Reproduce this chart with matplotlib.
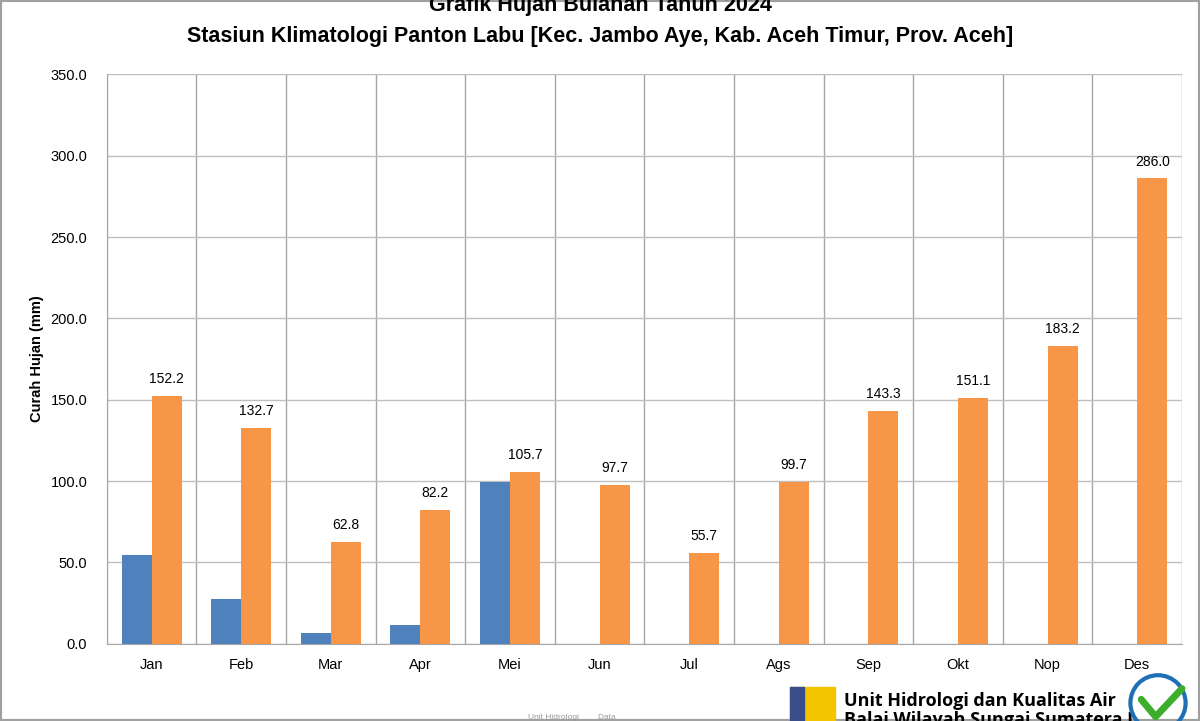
import numpy as np
import matplotlib.pyplot as plt
from matplotlib.patches import Rectangle, Ellipse

months = ['Jan', 'Feb', 'Mar', 'Apr', 'Mei', 'Jun', 'Jul', 'Ags', 'Sep', 'Okt', 'Nop', 'Des']
# blue series (no labels shown)
hujan_2024 = [54.7, 27.8, 6.8, 11.5, 99.2, 0, 0, 0, 0, 0, 0, 0]
# orange series (labelled)
hujan_rerata = [152.2, 132.7, 62.8, 82.2, 105.7, 97.7, 55.7, 99.7, 143.3, 151.1, 183.2, 286.0]

plt.rcParams['font.family'] = ['Liberation Sans', 'DejaVu Sans']

fig = plt.figure(figsize=(12, 7.21), dpi=100)
ax = fig.add_axes([0.089, 0.107, 0.896, 0.79])

x = np.arange(len(months))
w = 0.335
blue = '#4F81BD'
orange = '#F79646'
ax.bar(x - w / 2, hujan_2024, w, color=blue, zorder=3)
bars = ax.bar(x + w / 2, hujan_rerata, w, color=orange, zorder=3)
for b, v in zip(bars, hujan_rerata):
    ax.text(b.get_x() + b.get_width() / 2, v + 6, f'{v:.1f}', ha='center', va='bottom', fontsize=10)

ax.set_xlim(-0.5, 11.5)
ax.set_ylim(0, 350)
ax.set_yticks(np.arange(0, 351, 50))
ax.set_yticklabels([f'{v:.1f}' for v in np.arange(0, 351, 50)])
ax.set_xticks(x)
ax.set_xticklabels(months)
ax.tick_params(axis='both', length=0, labelsize=10.5)
ax.tick_params(axis='x', pad=10)
ax.tick_params(axis='y', pad=14)
ax.set_xticks(np.arange(-0.5, 12, 1), minor=True)
ax.tick_params(axis='x', which='minor', length=0)
ax.grid(axis='y', color='#BFBFBF', lw=1, zorder=0)
ax.grid(axis='x', which='minor', color='#A6A6A6', lw=1, zorder=0)
ax.grid(axis='x', which='major', visible=False)
for s in ['top', 'right']:
    ax.spines[s].set_visible(False)
for s in ['left', 'bottom']:
    ax.spines[s].set_color('#A6A6A6')
ax.set_ylabel('Curah Hujan (mm)', fontsize=10.5, fontweight='bold', labelpad=5)

fig.text(0.5, 0.992, 'Grafik Hujan Bulanan Tahun 2024', ha='center', va='center',
         fontsize=15.5, fontweight='bold')
fig.text(0.5, 0.949, 'Stasiun Klimatologi Panton Labu [Kec. Jambo Aye, Kab. Aceh Timur, Prov. Aceh]',
         ha='center', va='center', fontsize=15.5, fontweight='bold')

# footer / logo
fig.patches.append(Rectangle((0.658, 0.0), 0.038, 0.047, transform=fig.transFigure,
                             color='#F2C500', zorder=5))
fig.patches.append(Rectangle((0.658, 0.0), 0.012, 0.047, transform=fig.transFigure,
                             color='#3A4E8C', zorder=6))
fig.text(0.703, 0.028, 'Unit Hidrologi dan Kualitas Air', fontsize=13, fontweight='bold',
         va='center', family=['Open Sans', 'DejaVu Sans'])
fig.text(0.703, 0.002, 'Balai Wilayah Sungai Sumatera I', fontsize=13, fontweight='bold',
         va='center', family=['Open Sans', 'DejaVu Sans'])
fig.text(0.44, 0.005, 'Unit Hidrologi        Data', fontsize=6, color='#999999', va='center')
# certification mark
fig.patches.append(Ellipse((0.965, 0.025), 0.046, 0.077, transform=fig.transFigure, fill=False,
                           edgecolor='#1F6FB5', lw=3, zorder=5))
fig.add_artist(plt.Line2D([0.951, 0.963, 0.985], [0.03, 0.006, 0.045], transform=fig.transFigure,
                          color='#3DAE2B', lw=5, zorder=6, solid_capstyle='round'))

# grey frame
fig.patches.append(Rectangle((0, 0), 1, 1, transform=fig.transFigure, fill=False,
                             edgecolor='#A0A0A0', lw=3))

fig.savefig('out.png', dpi=100)
